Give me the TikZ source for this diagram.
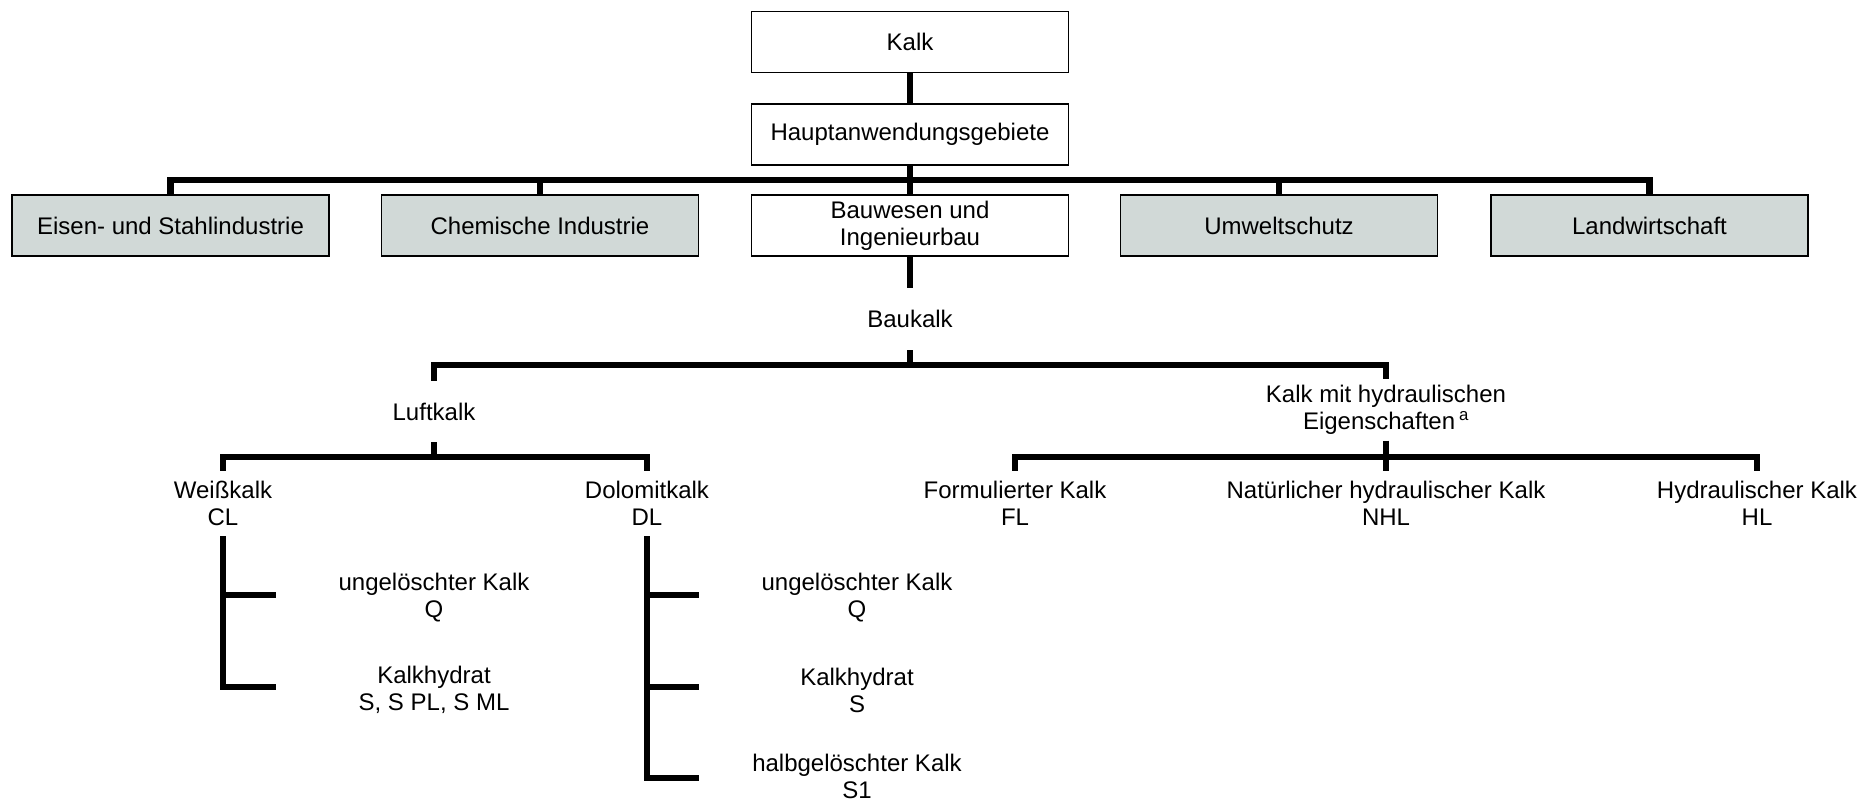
\documentclass[tikz,border=0pt]{standalone}
\usepackage{fontspec}
\setmainfont{Liberation Sans}
\definecolor{boxgray}{RGB}{209,217,215}
\begin{document}
\begin{tikzpicture}[x=1pt,y=-1pt,
  every node/.style={font=\fontsize{24}{27}\selectfont, align=center, inner sep=0pt},
  box/.style={draw, line width=1.5pt, minimum width=317pt, minimum height=61pt},
  graybox/.style={box, fill=boxgray},
  conn/.style={line width=6.5pt, line join=miter},
  lbl/.style={minimum height=61pt},
  rowlbl/.style={minimum height=65pt},
  sub/.style={minimum width=316pt}]
\useasboundingbox (0,0) rectangle (1861,802);

% top boxes
\node[box] (kalk) at (910,42) {Kalk};
\node[box] (haupt) at (910,134.5) {Hauptanwendungsgebiete};
\node[graybox] (eisen) at (170.5,225.5) {Eisen- und Stahlindustrie};
\node[graybox] (chem) at (540,225.5) {Chemische Industrie};
\node[box] (bau) at (910,225.5) {Bauwesen und\\Ingenieurbau};
\node[graybox] (umwelt) at (1279,225.5) {Umweltschutz};
\node[graybox] (land) at (1649.5,225.5) {Landwirtschaft};
\coordinate (hb) at (910,180);

% Baukalk level
\node[minimum height=62pt] (baukalk) at (910,319) {Baukalk};
\coordinate (bb) at (910,365);
\node[lbl] (luft) at (434,411.5) {Luftkalk};
\node[lbl] (hyd) at (1386,410) {Kalk mit hydraulischen\\Eigenschaften\,\textsuperscript{a}};
\coordinate (lb) at (434,457);

% row of lime types
\node[rowlbl] (wk) at (223,503.5) {Weißkalk\\CL};
\node[rowlbl] (dk) at (647,503.5) {Dolomitkalk\\DL};
\node[rowlbl] (fl) at (1015,503.5) {Formulierter Kalk\\FL};
\node[rowlbl] (nhl) at (1386,503.5) {Natürlicher hydraulischer Kalk\\NHL};
\node[rowlbl] (hl) at (1757,503.5) {Hydraulischer Kalk\\HL};

% sub items
\node[sub] (wq) at (434,598) {ungelöschter Kalk\\Q};
\node[sub] (wh) at (434,690) {Kalkhydrat\\S, S PL, S ML};
\node[sub] (dq) at (857,598) {ungelöschter Kalk\\Q};
\node[sub] (dh) at (857,690) {Kalkhydrat\\S};
\node[sub] (ds) at (857,776) {halbgelöschter Kalk\\S1};

% connectors
\draw[conn] (kalk) -- (haupt);
\draw[conn] (haupt) -- (bau);
\draw[conn] (eisen.north) -- (eisen.north |- hb) -- (land.north |- hb) -- (land.north);
\draw[conn] (chem.north) -- (chem.north |- hb);
\draw[conn] (umwelt.north) -- (umwelt.north |- hb);
\draw[conn] (bau) -- (baukalk);
\draw[conn] (baukalk.south) -- (bb);
\draw[conn] (luft.north) -- (luft.north |- bb) -- (hyd.north |- bb) -- (hyd.north);
\draw[conn] (luft.south) -- (luft.south |- lb);
\draw[conn] (wk.north) -- (wk.north |- lb) -- (dk.north |- lb) -- (dk.north);
\draw[conn] (hyd.south) -- (nhl.north);
\draw[conn] (fl.north) -- (fl.north |- lb) -- (hl.north |- lb) -- (hl.north);
\draw[conn] (wk.south) |- ([yshift=3pt]wh.west);
\draw[conn] (wk.south |- wq.west) ++(0,-3) -- ([yshift=3pt]wq.west);
\draw[conn] (dk.south) |- ([yshift=-2pt]ds.west);
\draw[conn] (dk.south |- dq.west) ++(0,-3) -- ([yshift=3pt]dq.west);
\draw[conn] (dk.south |- dh.west) ++(0,-3) -- ([yshift=3pt]dh.west);
\end{tikzpicture}
\end{document}
